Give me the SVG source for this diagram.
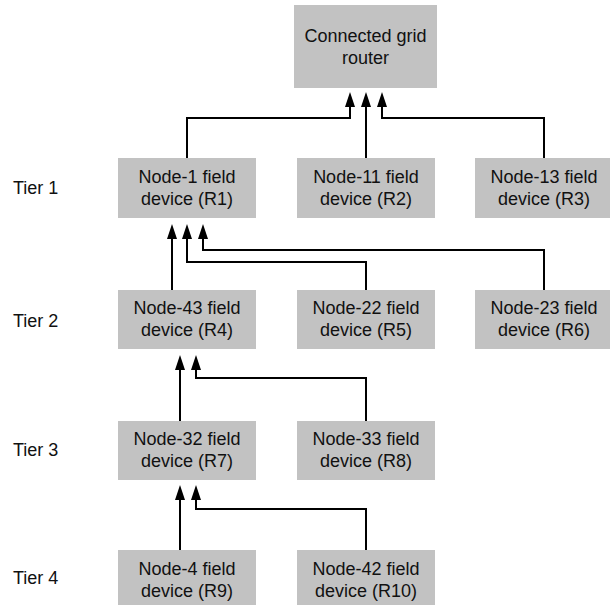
<svg xmlns="http://www.w3.org/2000/svg" width="610" height="605" viewBox="0 0 610 605">
<style>
.box{fill:#c2c2c2}
.t{font-family:"Liberation Sans",Arial,sans-serif;font-size:18px;fill:#111;text-anchor:middle}
.tier{font-family:"Liberation Sans",Arial,sans-serif;font-size:18px;fill:#111}
.c{fill:none;stroke:#000;stroke-width:2}
</style>
<defs>
<marker id="ah" markerUnits="userSpaceOnUse" markerWidth="16" markerHeight="10" refX="0" refY="5" orient="auto">
<path d="M0,0 L15,5 L0,10 z" fill="#000"/>
</marker>
</defs>
<rect width="610" height="605" fill="#fff"/>
<g id="tiers">
<text class="tier" x="13" y="194">Tier 1</text>
<text class="tier" x="13" y="327">Tier 2</text>
<text class="tier" x="13" y="456">Tier 3</text>
<text class="tier" x="13" y="584">Tier 4</text>
</g>
<g id="router"><rect class="box" x="294" y="5" width="143" height="83"/><text class="t" x="365.5" y="42">Connected grid</text><text class="t" x="365.5" y="64">router</text></g>
<g id="r1"><rect class="box" x="118" y="158" width="138" height="60"/><text class="t" x="187" y="183">Node-1 field</text><text class="t" x="187" y="205">device (R1)</text></g>
<g id="r2"><rect class="box" x="297" y="158" width="138" height="60"/><text class="t" x="366" y="183">Node-11 field</text><text class="t" x="366" y="205">device (R2)</text></g>
<g id="r3"><rect class="box" x="475" y="158" width="135" height="60"/><text class="t" x="544" y="183">Node-13 field</text><text class="t" x="544" y="205">device (R3)</text></g>
<g id="r4"><rect class="box" x="118" y="290" width="138" height="59"/><text class="t" x="187" y="314">Node-43 field</text><text class="t" x="187" y="336">device (R4)</text></g>
<g id="r5"><rect class="box" x="297" y="290" width="138" height="59"/><text class="t" x="366" y="314">Node-22 field</text><text class="t" x="366" y="336">device (R5)</text></g>
<g id="r6"><rect class="box" x="475" y="290" width="135" height="59"/><text class="t" x="544" y="314">Node-23 field</text><text class="t" x="544" y="336">device (R6)</text></g>
<g id="r7"><rect class="box" x="118" y="421" width="138" height="59"/><text class="t" x="187" y="445">Node-32 field</text><text class="t" x="187" y="467">device (R7)</text></g>
<g id="r8"><rect class="box" x="297" y="421" width="138" height="59"/><text class="t" x="366" y="445">Node-33 field</text><text class="t" x="366" y="467">device (R8)</text></g>
<g id="r9"><rect class="box" x="118" y="550" width="138" height="58"/><text class="t" x="187" y="575">Node-4 field</text><text class="t" x="187" y="597">device (R9)</text></g>
<g id="r10"><rect class="box" x="297" y="550" width="138" height="58"/><text class="t" x="366" y="575">Node-42 field</text><text class="t" x="366" y="597">device (R10)</text></g>
<g id="connectors">
<path class="c" d="M187,158 V118 H350 V107" marker-end="url(#ah)"/>
<path class="c" d="M366,158 V107" marker-end="url(#ah)"/>
<path class="c" d="M544,158 V118 H382 V107" marker-end="url(#ah)"/>
<path class="c" d="M172,290 V239" marker-end="url(#ah)"/>
<path class="c" d="M366,290 V262 H187 V239" marker-end="url(#ah)"/>
<path class="c" d="M544,290 V250 H203 V239" marker-end="url(#ah)"/>
<path class="c" d="M180,421 V370" marker-end="url(#ah)"/>
<path class="c" d="M366,421 V378 H196 V370" marker-end="url(#ah)"/>
<path class="c" d="M180,550 V500" marker-end="url(#ah)"/>
<path class="c" d="M366,550 V509 H196 V500" marker-end="url(#ah)"/>
</g>
</svg>
